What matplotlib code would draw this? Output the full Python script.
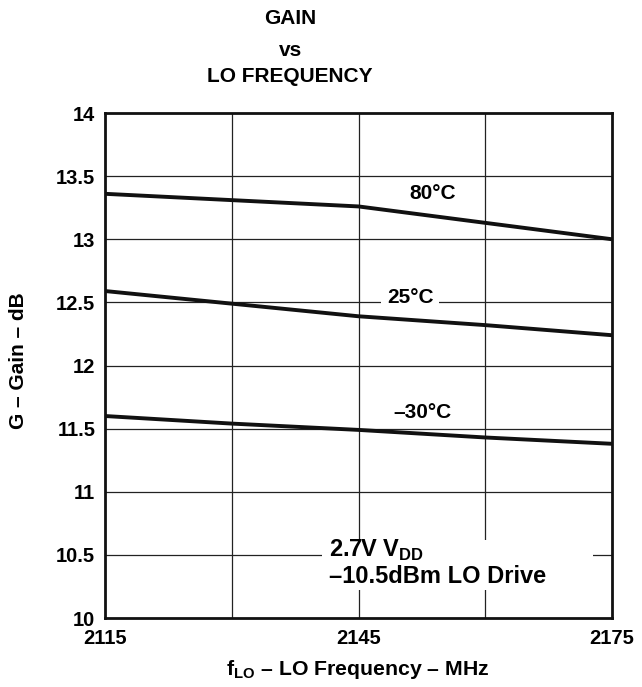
import numpy as np
import matplotlib
matplotlib.use("Agg")
import matplotlib.pyplot as plt
from matplotlib.patches import Rectangle

plt.rcParams['font.family'] = ['Liberation Sans', 'DejaVu Sans']
plt.rcParams['font.weight'] = 'bold'
plt.rcParams['mathtext.fontset'] = 'custom'
plt.rcParams['mathtext.rm'] = 'Liberation Sans:bold'
plt.rcParams['mathtext.bf'] = 'Liberation Sans:bold'

# LO frequency (MHz)
freq = [2115, 2130, 2145, 2160, 2175]
# gain (dB) per temperature
gain_80 = [13.36, 13.31, 13.26, 13.13, 13.00]
gain_25 = [12.59, 12.49, 12.39, 12.32, 12.24]
gain_m30 = [11.60, 11.54, 11.49, 11.43, 11.38]

xticks = [2115, 2145, 2175]
xgrid = [2130, 2145, 2160]
yticks = [10, 10.5, 11, 11.5, 12, 12.5, 13, 13.5, 14]
ytick_labels = ['10', '10.5', '11', '11.5', '12', '12.5', '13', '13.5', '14']

fig = plt.figure(figsize=(6.42, 6.87), dpi=100)
ax = fig.add_axes([0.1636, 0.1004, 0.7897, 0.7351])

# grid lines
for x in xgrid:
    ax.axvline(x, color='#222222', lw=0.9, zorder=1)
for y in yticks[1:-1]:
    ax.axhline(y, color='#222222', lw=0.9, zorder=1)

for g in (gain_80, gain_25, gain_m30):
    ax.plot(freq, g, color='#111111', lw=2.8, solid_capstyle='butt', zorder=3)

ax.set_xlim(2115, 2175)
ax.set_ylim(10, 14)
ax.set_xticks(xticks)
ax.set_xticklabels([str(v) for v in xticks], fontsize=14.5, fontweight='bold')
ax.set_yticks(yticks)
ax.set_yticklabels(ytick_labels, fontsize=14.5, fontweight='bold')
ax.tick_params(axis='y', length=0, pad=7)
ax.tick_params(axis='x', length=0, pad=8)
for s in ax.spines.values():
    s.set_linewidth(2.0)
    s.set_color('#111111')
    s.set_zorder(5)

lbl = dict(fontsize=15, fontweight='bold', ha='center', va='center', zorder=4)
ax.text(2153.8, 13.36, '80°C', **lbl)
ax.text(2151.1, 12.54, '25°C', bbox=dict(fc='white', ec='none', pad=4), **lbl)
ax.text(2152.6, 11.63, '–30°C', **lbl)

# white patch behind the conditions note (breaks the grid)
ax.add_patch(Rectangle((2140.7, 10.222), 32.0, 0.396, fc='white', ec='none', zorder=2))
ax.text(2141.5, 10.483, '2.7V V$_{\\mathrm{DD}}$', fontsize=17, fontweight='bold',
        ha='left', va='baseline', zorder=4)
ax.text(2141.5, 10.277, '–10.5dBm LO Drive', fontsize=17, fontweight='bold',
        ha='left', va='baseline', zorder=4)

fig.text(0.5576, 0.026, 'f$_{\\mathrm{LO}}$ – LO Frequency – MHz', fontsize=15.3,
         fontweight='bold', ha='center', va='center')
fig.text(0.029, 0.4745, 'G – Gain – dB', fontsize=15, fontweight='bold',
         ha='center', va='center', rotation=90)

tfont = dict(fontsize=15, fontweight='bold', ha='center', va='center')
fig.text(0.452, 0.973, 'GAIN', **tfont)
fig.text(0.452, 0.926, 'vs', **tfont)
fig.text(0.452, 0.888, 'LO FREQUENCY', **tfont)

fig.savefig('out.png', dpi=100)
